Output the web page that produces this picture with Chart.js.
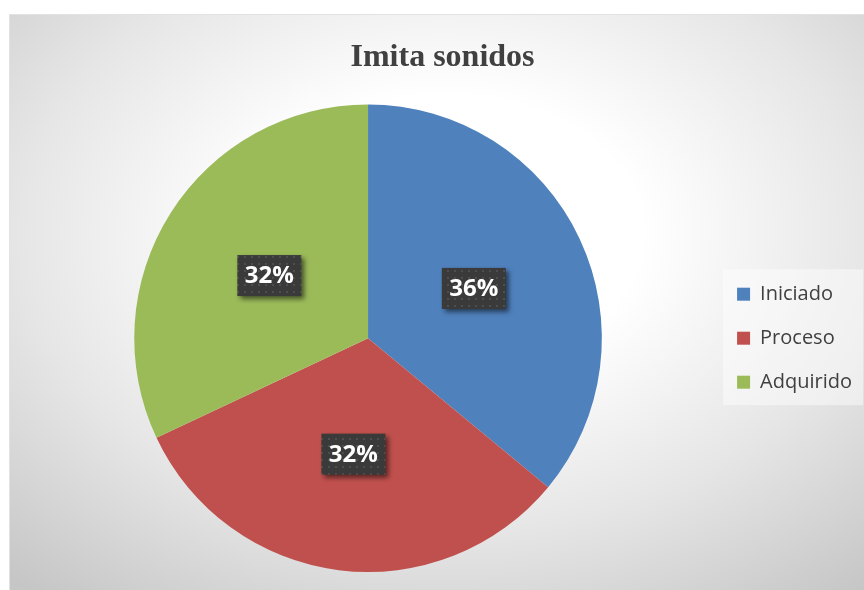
<!DOCTYPE html>
<html>
<head>
<meta charset="utf-8">
<script src="https://cdn.jsdelivr.net/npm/chart.js@4.4.0/dist/chart.umd.min.js"></script>
<style>
  html, body { margin: 0; padding: 0; width: 864px; height: 590px; overflow: hidden; background: #ffffff; }
  #box {
    position: absolute; left: 9px; top: 14px; width: 873px; height: 576px;
    background: radial-gradient(ellipse 75% 80% at 50% 38%, #ffffff 0%, #ffffff 30%, #e6e6e6 65%, #c6c6c6 100%);
    border-left: 1px solid #e2e2e2; border-top: 1px solid #e2e2e2; box-sizing: border-box;
  }
  #c { position: absolute; left: 0; top: 0; }
</style>
</head>
<body>
<div id="box"><canvas id="c" width="873" height="576"></canvas></div>
<script>
const chartTitle = "Imita sonidos";
const categories = ["Iniciado", "Proceso", "Adquirido"];
const values = [9, 8, 8];
const sliceColors = ["#4F81BD", "#C0504D", "#9BBB59"];

// dotted dark pattern for data labels
function makePattern(ctx) {
  const p = document.createElement('canvas');
  p.width = 7; p.height = 7;
  const pc = p.getContext('2d');
  pc.fillStyle = '#3a3a3a';
  pc.fillRect(0, 0, 7, 7);
  pc.fillStyle = '#4e4e4e';
  pc.fillRect(3, 3, 2, 2);
  return ctx.createPattern(p, 'repeat');
}

const legendBg = {
  id: 'legendBg',
  beforeDraw(chart) {
    const lg = chart.legend;
    if (!lg || !lg.legendHitBoxes || !lg.legendHitBoxes.length) return;
    const hb = lg.legendHitBoxes;
    const ctx = chart.ctx;
    const x0 = hb[0].left - 14;
    const y0 = hb[0].top - 15;
    const last = hb[hb.length - 1];
    const y1 = last.top + last.height + 13;
    ctx.save();
    ctx.fillStyle = 'rgba(255,255,255,0.45)';
    ctx.fillRect(x0, y0, 140, y1 - y0);
    ctx.restore();
  }
};

const dataLabels = {
  id: 'dataLabels',
  afterDatasetsDraw(chart) {
    const ctx = chart.ctx;
    const meta = chart.getDatasetMeta(0);
    const ds = chart.data.datasets[0].data;
    const total = ds.reduce((a, b) => a + b, 0);
    const pat = makePattern(ctx);
    meta.data.forEach((arc, i) => {
      const pt = arc.getCenterPoint();
      const txt = Math.round(ds[i] / total * 100) + '%';
      const w = 64, h = 41;
      ctx.save();
      ctx.shadowColor = 'rgba(0,0,0,0.55)';
      ctx.shadowBlur = 5;
      ctx.shadowOffsetX = 3;
      ctx.shadowOffsetY = 3;
      ctx.fillStyle = pat;
      ctx.fillRect(pt.x - w / 2, pt.y - h / 2, w, h);
      ctx.restore();
      ctx.save();
      ctx.fillStyle = '#ffffff';
      ctx.font = 'bold 24px "Open Sans"';
      ctx.textAlign = 'center';
      ctx.textBaseline = 'middle';
      ctx.fillText(txt, pt.x, pt.y + 1);
      ctx.restore();
    });
  }
};

new Chart(document.getElementById('c'), {
  type: 'pie',
  data: {
    labels: categories,
    datasets: [{
      data: values,
      backgroundColor: sliceColors,
      borderWidth: 0,
      hoverOffset: 0,
      offset: 0
    }]
  },
  options: {
    responsive: false,
    animation: false,
    devicePixelRatio: 1,
    layout: { padding: { left: 13, right: 21, top: 0, bottom: 19 } },
    plugins: {
      title: {
        display: true,
        text: chartTitle,
        color: '#404040',
        font: { family: '"Liberation Serif"', size: 32, weight: 'bold' },
        padding: { top: 24, bottom: 27 }
      },
      legend: {
        position: 'right',
        align: 'start',
        title: {
          display: true,
          text: ' ',
          font: { size: 1 },
          padding: { top: 244, bottom: 0 }
        },
        labels: {
          boxWidth: 13,
          boxHeight: 13,
          padding: 24,
          color: '#404040',
          font: { family: '"Open Sans"', size: 20 }
        }
      },
      tooltip: { enabled: false }
    }
  },
  plugins: [legendBg, dataLabels]
});
</script>
</body>
</html>
